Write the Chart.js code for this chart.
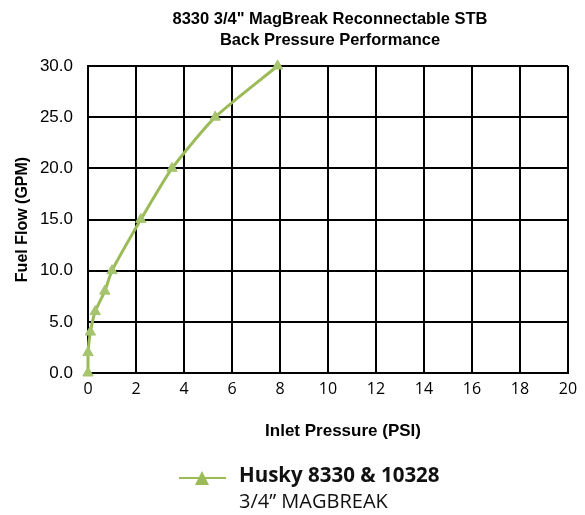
<!DOCTYPE html>
<html>
<head>
<meta charset="utf-8">
<script src="https://cdn.jsdelivr.net/npm/chart.js@4/dist/chart.umd.min.js"></script>
<style>
  html, body { margin: 0; padding: 0; background: #fff; }
  #wrap { width: 585px; height: 515px; position: relative; }
</style>
</head>
<body>
<div id="wrap"><canvas id="chart"></canvas></div>
<script>
/* Back pressure curve */
const pressurePsi = [0, 0, 0.1, 0.3, 0.7, 1.0, 2.2, 3.5, 5.3, 7.9];
const flowGpm = [0, 2, 4, 6, 8, 10, 15, 20, 25, 30];
const titleLines = ['8330 3/4" MagBreak Reconnectable STB', 'Back Pressure Performance'];
const xTitle = 'Inlet Pressure (PSI)';
const legendLines = ['Husky 8330 & 10328', '3/4\u201D MAGBREAK'];

const GREEN = '#9bbb59';

// title, x-axis title (sits a bit right of centre) and two-line legend
const extras = {
    id: 'extras',
    afterDraw(chart) {
        const ctx = chart.ctx;
        const area = chart.chartArea;
        ctx.save();
        ctx.fillStyle = '#000';
        ctx.textAlign = 'center';
        ctx.textBaseline = 'middle';
        ctx.font = 'bold 16.5px "Liberation Sans", Arial, sans-serif';
        const cx = (area.left + area.right) / 2;
        ctx.fillText(titleLines[0], cx + 2, 19);
        ctx.fillText(titleLines[1], cx + 2, 40);

        ctx.font = 'bold 17px "Liberation Sans", Arial, sans-serif';
        ctx.fillText(xTitle, cx + 15, 431);

        // legend sample
        ctx.strokeStyle = GREEN;
        ctx.lineWidth = 2;
        ctx.beginPath();
        ctx.moveTo(179, 478);
        ctx.lineTo(226, 478);
        ctx.stroke();
        ctx.fillStyle = GREEN;
        ctx.beginPath();
        ctx.moveTo(202, 471);
        ctx.lineTo(209, 485);
        ctx.lineTo(195, 485);
        ctx.closePath();
        ctx.fill();

        ctx.fillStyle = '#111';
        ctx.textAlign = 'left';
        ctx.font = 'bold 20.5px "Open Sans", sans-serif';
        ctx.fillText(legendLines[0], 239, 476);
        ctx.font = '20px "Open Sans", sans-serif';
        ctx.fillText(legendLines[1], 239, 502);
        ctx.restore();
    }
};

new Chart(document.getElementById('chart'), {
    type: 'line',
    data: {
        datasets: [{
            data: pressurePsi.map((x, i) => ({ x, y: flowGpm[i] })),
            borderColor: GREEN,
            backgroundColor: GREEN,
            borderWidth: 3,
            tension: 0.2,
            clip: false,
            pointStyle: 'triangle',
            pointRadius: 6,
            pointBorderWidth: 1,
            pointBorderColor: '#a7c46e',
            pointBackgroundColor: '#a7c46e',
        }],
    },
    options: {
        responsive: true,
        maintainAspectRatio: false,
        animation: false,
        layout: { padding: { top: 66, right: 17, bottom: 75, left: 0 } },
        plugins: {
            legend: { display: false },
            title: { display: false },
            tooltip: { enabled: false },
        },
        scales: {
            x: {
                type: 'linear',
                min: 0,
                max: 20,
                afterFit: (s) => { s.height = 67; },
                ticks: {
                    stepSize: 2,
                    color: '#000',
                    padding: 7,
                    font: { family: '"Open Sans", sans-serif', size: 16 },
                },
                grid: { color: '#000', lineWidth: 2, drawTicks: false },
                border: { color: '#000', width: 2 },
            },
            y: {
                min: 0,
                max: 30,
                afterFit: (s) => { s.width = 88; },
                ticks: {
                    stepSize: 5,
                    color: '#000',
                    padding: 15,
                    callback: (v) => v.toFixed(1),
                    font: { family: '"Liberation Sans", Arial, sans-serif', size: 17 },
                },
                grid: { color: '#000', lineWidth: 2, drawTicks: false },
                border: { color: '#000', width: 2 },
                title: {
                    display: true,
                    text: 'Fuel Flow (GPM)',
                    color: '#000',
                    font: { family: '"Liberation Sans", Arial, sans-serif', size: 16, weight: 'bold' },
                    padding: { top: 13, bottom: 0 },
                },
            },
        },
    },
    plugins: [extras],
});
</script>
</body>
</html>
